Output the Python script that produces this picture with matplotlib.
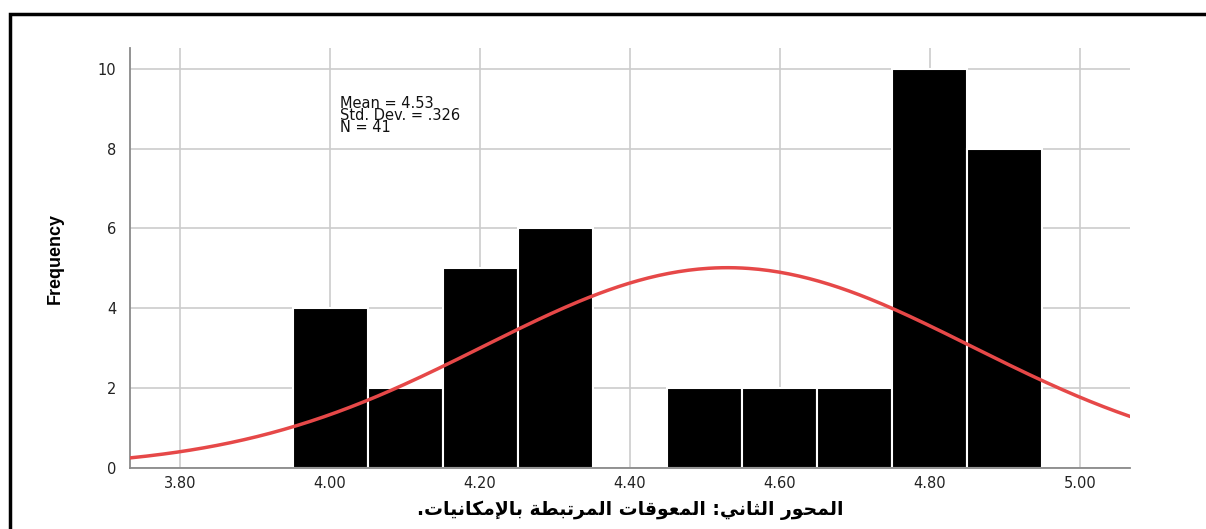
import matplotlib.pyplot as plt
from matplotlib.patches import Rectangle
import numpy as np

# histogram bins (centres) and counts
bin_centers = [4.0, 4.1, 4.2, 4.3, 4.5, 4.6, 4.7, 4.8, 4.9]
counts = [4, 2, 5, 6, 2, 2, 2, 10, 8]
bin_width = 0.1

# summary stats shown on the chart (used for the normal curve)
mean = 4.53
std = 0.326
n = 41

x_ticks = [3.80, 4.00, 4.20, 4.40, 4.60, 4.80, 5.00]
y_ticks = [0, 2, 4, 6, 8, 10]
x_label = 'المحور الثاني: المعوقات المرتبطة بالإمكانيات.'

# %%
# matplotlib has no arabic shaping, so map letters to presentation forms
FORMS = {
    'ا': ('\uFE8D', '\uFE8E', None, None),
    'إ': ('\uFE87', '\uFE88', None, None),
    'ب': ('\uFE8F', '\uFE90', '\uFE91', '\uFE92'),
    'ة': ('\uFE93', '\uFE94', None, None),
    'ت': ('\uFE95', '\uFE96', '\uFE97', '\uFE98'),
    'ث': ('\uFE99', '\uFE9A', '\uFE9B', '\uFE9C'),
    'ح': ('\uFEA1', '\uFEA2', '\uFEA3', '\uFEA4'),
    'ر': ('\uFEAD', '\uFEAE', None, None),
    'ط': ('\uFEC1', '\uFEC2', '\uFEC3', '\uFEC4'),
    'ع': ('\uFEC9', '\uFECA', '\uFECB', '\uFECC'),
    'ق': ('\uFED5', '\uFED6', '\uFED7', '\uFED8'),
    'ك': ('\uFED9', '\uFEDA', '\uFEDB', '\uFEDC'),
    'ل': ('\uFEDD', '\uFEDE', '\uFEDF', '\uFEE0'),
    'م': ('\uFEE1', '\uFEE2', '\uFEE3', '\uFEE4'),
    'ن': ('\uFEE5', '\uFEE6', '\uFEE7', '\uFEE8'),
    'و': ('\uFEED', '\uFEEE', None, None),
    'ي': ('\uFEF1', '\uFEF2', '\uFEF3', '\uFEF4'),
}
LIGS = {'لا': ('\uFEFB', '\uFEFC'), 'لإ': ('\uFEF9', '\uFEFA')}


def shape_ar(text):
    units = []
    i = 0
    while i < len(text):
        if text[i] == 'ل' and i + 1 < len(text) and text[i + 1] in 'اإ':
            units.append(text[i:i + 2])
            i += 2
        else:
            units.append(text[i])
            i += 1

    def joins_next(u):
        return u in FORMS and FORMS[u][2] is not None

    def joining(u):
        return u in FORMS or u in LIGS

    out = []
    for k, u in enumerate(units):
        prev_j = k > 0 and joins_next(units[k - 1])
        next_j = joins_next(u) and k + 1 < len(units) and joining(units[k + 1])
        if u in LIGS:
            out.append(LIGS[u][1 if prev_j else 0])
        elif u in FORMS:
            iso, fin, ini, med = FORMS[u]
            if prev_j and next_j:
                out.append(med)
            elif prev_j:
                out.append(fin)
            elif next_j:
                out.append(ini)
            else:
                out.append(iso)
        else:
            out.append(u)
    return ''.join(out)[::-1]


# %%
plt.rcParams['font.family'] = ['DejaVu Sans']

fig = plt.figure(figsize=(12.06, 5.29), dpi=100)
ax = fig.add_axes([130 / 1206, 1 - 468 / 529, 1000 / 1206, 420 / 529])

ax.bar(bin_centers, counts, width=bin_width, color='black',
       edgecolor='white', linewidth=1.5, zorder=2)

xs = np.linspace(3.733, 5.067, 300)
ys = n * bin_width * np.exp(-0.5 * ((xs - mean) / std) ** 2) / (std * np.sqrt(2 * np.pi))
ax.plot(xs, ys, color='#e64848', linewidth=2.5, zorder=3)

ax.set_xlim(3.733, 5.067)
ax.set_ylim(0, 10.52)
ax.set_xticks(x_ticks, [f'{t:.2f}' for t in x_ticks])
ax.set_yticks(y_ticks, [str(t) for t in y_ticks])
ax.tick_params(length=0, labelsize=10.5, colors='#222222')
ax.tick_params(axis='x', pad=6)
ax.tick_params(axis='y', pad=10)
ax.grid(True, color='#cccccc', linewidth=1.2, zorder=0)
ax.set_axisbelow(True)

for side in ['top', 'right']:
    ax.spines[side].set_visible(False)
for side in ['left', 'bottom']:
    ax.spines[side].set_color('#8a8a8a')
    ax.spines[side].set_linewidth(1.3)

ax.text(4.013, 9.32, f'Mean = {mean:.2f}\nStd. Dev. = .326\nN = {n}',
        fontsize=10.5, linespacing=0.76, va='top', ha='left', color='#111111')

ax.set_ylabel('Frequency', family=['Liberation Sans Narrow', 'Liberation Sans'],
              fontweight='bold', fontsize=13, labelpad=24)
ax.set_xlabel(shape_ar(x_label), fontweight='bold', fontsize=13.5, labelpad=7)

# black frame around the chart, running off the right and bottom edges
fig.patches.append(Rectangle((10 / 1206, -0.1), 1.2, 1 - 14 / 529 + 0.1,
                             transform=fig.transFigure, fill=False,
                             edgecolor='black', linewidth=2.5))

fig.savefig('out.png', dpi=100)
